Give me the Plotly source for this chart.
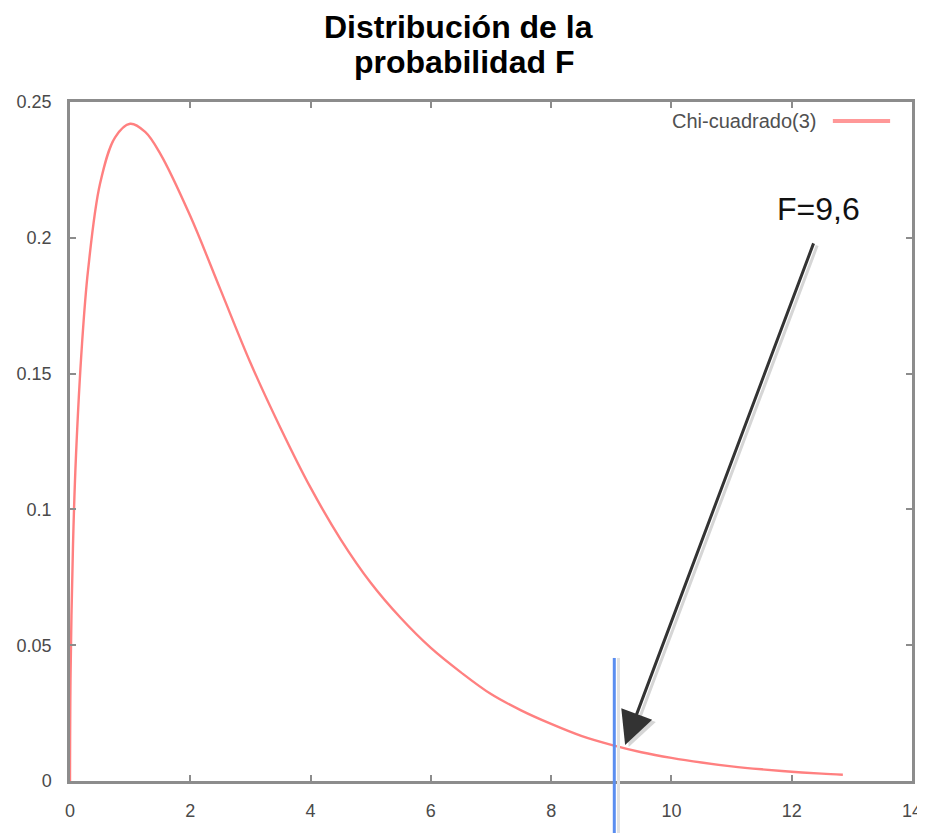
import plotly.graph_objects as go

# Values
x_vals = [0, 0.01, 0.05, 0.1, 0.2, 0.3, 0.5, 0.75, 1.0, 1.25, 1.5, 2.0, 2.5, 3.0, 3.5, 4.0,
          4.5, 5.0, 5.5, 6.0, 6.5, 7.0, 7.5, 8.0, 8.5, 9.0, 9.5, 10.0, 10.5, 11.0,
          11.5, 12.0, 12.5, 12.85]
y_vals = [0, 0.04, 0.087, 0.120, 0.161, 0.188, 0.220, 0.237, 0.242, 0.239, 0.231, 0.208,
          0.181, 0.154, 0.130, 0.108, 0.089, 0.073, 0.060, 0.049, 0.040, 0.032, 0.026,
          0.021, 0.0166, 0.0133, 0.0106, 0.0085, 0.0068, 0.0054, 0.0043, 0.0034,
          0.0027, 0.0023]
series_name = "Chi-cuadrado(3)"
f_marker_x = 9.05
f_marker_top = 0.0453
arrow_tip = (9.23, 0.0133)
f_label = "F=9,6"
f_label_pos = (12.45, 0.2105)
title_lines = ["Distribución de la", "probabilidad F"]
x_ticks = [0, 2, 4, 6, 8, 10, 12, 14]
y_ticks = [0, 0.05, 0.1, 0.15, 0.2, 0.25]
y_tick_labels = ["0", "0.05", "0.1", "0.15", "0.2", "0.25"]
x_range = [0, 14]
y_range = [0, 0.25]

FONT = "Liberation Sans, Arial, sans-serif"

fig = go.Figure()
fig.add_trace(go.Scatter(x=x_vals, y=y_vals, mode="lines", name=series_name,
                         line=dict(color="#ff8080", width=2.4, shape="spline"),
                         showlegend=False))

axis_common = dict(showgrid=False, zeroline=False, showline=True, mirror="ticks",
                   linecolor="#8c8c8c", linewidth=2.5, ticks="inside", ticklen=6,
                   tickcolor="#8c8c8c", tickwidth=1.5,
                   tickfont=dict(family=FONT, size=18, color="#4a4a4a"))

fig.update_xaxes(range=x_range, tickvals=x_ticks, ticklabelstandoff=12, **axis_common)
fig.update_yaxes(range=y_range, tickvals=y_ticks, ticktext=y_tick_labels,
                 ticklabelstandoff=12, **axis_common)

# Blue vertical marker line (extends below the axis to the page bottom)
y_top_paper = (f_marker_top - y_range[0]) / (y_range[1] - y_range[0])
fig.add_shape(type="line", xref="x", yref="paper", x0=f_marker_x + 0.07, x1=f_marker_x + 0.07,
              y0=-0.09, y1=y_top_paper, line=dict(color="#e2e2e2", width=3))
fig.add_shape(type="line", xref="x", yref="paper", x0=f_marker_x, x1=f_marker_x,
              y0=-0.09, y1=y_top_paper, line=dict(color="#5b8ef0", width=3))

# Arrow shadow
fig.add_annotation(x=arrow_tip[0] + 0.06, y=arrow_tip[1] - 0.0008, xref="x", yref="y",
                   ax=189, ay=-503, text="",
                   showarrow=True, arrowhead=2, arrowsize=2.2, arrowwidth=3,
                   arrowcolor="#d6d6d6")
# Arrow
fig.add_annotation(x=arrow_tip[0], y=arrow_tip[1], xref="x", yref="y",
                   ax=189, ay=-503, text="",
                   showarrow=True, arrowhead=2, arrowsize=2.2, arrowwidth=3,
                   arrowcolor="#333333")
# F label
fig.add_annotation(x=f_label_pos[0], y=f_label_pos[1], xref="x", yref="y", text=f_label,
                   showarrow=False,
                   font=dict(family=FONT, size=32, color="#111111"))

# Manual legend (text left, line sample right)
fig.add_annotation(xref="paper", yref="paper", x=0.889, y=0.972, xanchor="right",
                   yanchor="middle", text=series_name, showarrow=False,
                   font=dict(family=FONT, size=20, color="#505050"))
fig.add_shape(type="line", xref="paper", yref="paper", x0=0.906, x1=0.974,
              y0=0.972, y1=0.972, line=dict(color="#ff9898", width=4))

# Title as two lines
fig.add_annotation(xref="paper", yref="paper", x=0.461, y=1.1105, yanchor="middle",
                   text="<b>" + title_lines[0] + "</b>", showarrow=False,
                   font=dict(family=FONT, size=32, color="#000000"))
fig.add_annotation(xref="paper", yref="paper", x=0.468, y=1.0589, yanchor="middle",
                   text="<b>" + title_lines[1] + "</b>", showarrow=False,
                   font=dict(family=FONT, size=32, color="#000000"))

fig.update_layout(
    width=925, height=833,
    margin=dict(l=62, r=21, t=94, b=60, autoexpand=False),
    paper_bgcolor="white", plot_bgcolor="white",
)

fig.write_html("out.html")
